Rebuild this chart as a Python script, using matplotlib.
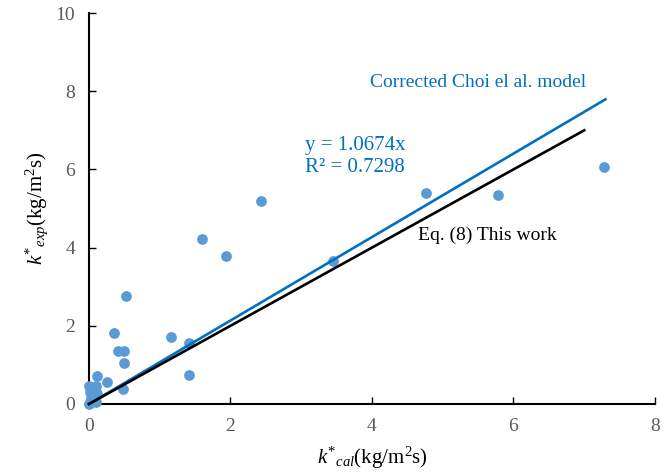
import matplotlib.pyplot as plt
import numpy as np

plt.rcParams['font.family'] = ['Liberation Serif', 'DejaVu Serif']
plt.rcParams['mathtext.fontset'] = 'custom'
plt.rcParams['mathtext.rm'] = 'Liberation Serif'
plt.rcParams['mathtext.it'] = 'Liberation Serif:italic'

# calculated vs experimental mass transfer coefficient
k_cal = [7.28, 5.78, 4.76, 3.45, 2.43, 1.94, 1.60, 0.52, 0.35, 0.41, 0.49,
         0.49, 1.16, 1.41, 1.41, 0.11, 0.25, 0.48,
         0.00, 0.02, 0.05, 0.10, 0.10, 0.08, 0.02, 0.00, 0.03, 0.12, 0.06, 0.10]
k_exp = [6.06, 5.35, 5.40, 3.66, 5.19, 3.78, 4.22, 2.76, 1.82, 1.36, 1.36,
         1.05, 1.71, 1.56, 0.74, 0.72, 0.56, 0.38,
         0.45, 0.30, 0.20, 0.45, 0.30, 0.10, 0.05, 0.00, 0.15, 0.25, 0.38, 0.05]

slope_choi = 1.0674
r2_choi = 0.7298
choi_x = [0, 7.3]
work_x = [0, 7.0]

fig, ax = plt.subplots(figsize=(6.67, 4.73), dpi=100)
fig.subplots_adjust(left=0.1334, right=0.982, top=0.9725, bottom=0.1459)

ax.scatter(k_cal, k_exp, s=60, color='#5B9BD5', zorder=3, clip_on=False,
           linewidths=0)
ax.plot(choi_x, slope_choi * np.array(choi_x), color='#0070C0', lw=1.9,
        zorder=4, clip_on=False)
ax.plot(work_x, work_x, color='black', lw=1.9, zorder=4, clip_on=False)

ax.text(3.97, 8.23, 'Corrected Choi el al. model', color='#0070C0',
        fontsize=14, va='center')
ax.text(3.05, 6.62, 'y = 1.0674x', color='#0070C0', fontsize=15, va='center')
ax.text(3.05, 6.04, 'R² = %.4f' % r2_choi, color='#0070C0', fontsize=15,
        va='center')
ax.text(4.65, 4.32, 'Eq. (8) This work', color='black', fontsize=14,
        va='center')

ax.set_xlim(0, 8)
ax.set_ylim(0, 10)
ax.set_xticks([0, 2, 4, 6, 8])
ax.set_yticks([0, 2, 4, 6, 8, 10])

for side in ['top', 'right']:
    ax.spines[side].set_visible(False)
for side in ['left', 'bottom']:
    ax.spines[side].set_linewidth(1.5)

ax.tick_params(direction='in', length=5, width=1, labelsize=14,
               labelcolor='#595959', pad=10)

ax.set_xlabel(r'$k^{*}{}_{cal}$(kg/m$^{2}$s)', fontsize=15, labelpad=7)
ax.set_ylabel(r'$k^{*}{}_{exp}$(kg/m$^{2}$s)', fontsize=15, labelpad=4)

plt.savefig('out.png', dpi=100)
